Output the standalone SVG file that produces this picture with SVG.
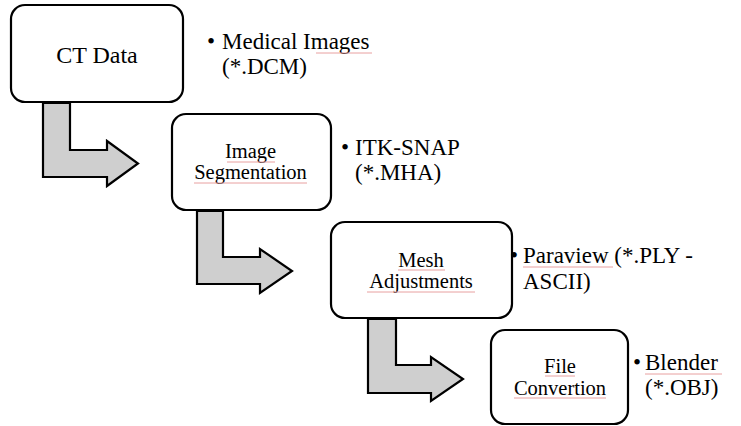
<svg xmlns="http://www.w3.org/2000/svg" width="741" height="426" viewBox="0 0 741 426">
<style>
.box{fill:#fff;stroke:#000;stroke-width:2.2}
.arr{fill:#cfcfcf;stroke:#000;stroke-width:2.2;stroke-linejoin:miter}
.lbl{font-size:20.5px;fill:#000;text-anchor:middle}
.big{font-size:24px}
.bul{font-size:23px;fill:#000}
.sp{stroke:#e8a0a0;stroke-width:1;fill:none}
</style>
<rect width="741" height="426" fill="#fff"/>
<g id="connectors">
<polygon class="arr" points="43,103 70,103 70,150 107,150 107,141 138,163.5 107,186 107,177 43,177"/>
<polygon class="arr" points="197,211 223,211 223,257 260,257 260,249 292,271 260,293 260,284 197,284"/>
<polygon class="arr" points="368,319 396,319 396,365 431,365 431,357 463,379 431,401 431,393 368,393"/>
</g>
<g font-family="'Liberation Serif', 'Times New Roman', serif">
<g id="node-ct">
<rect class="box" x="11" y="5" width="172" height="97" rx="14"/>
<text class="lbl big" x="97" y="63">CT Data</text>
</g>
<g id="note-ct">
<text class="bul" x="207" y="49">•</text>
<text class="bul" x="222" y="49">Medical Images</text>
<text class="bul" x="222" y="74">(*.DCM)</text>
<path class="sp" d="M316,53 H372"/>
</g>
<g id="node-seg">
<rect class="box" x="172" y="114" width="159" height="96" rx="14"/>
<text class="lbl" x="250.5" y="158">Image</text>
<text class="lbl" x="250.5" y="179">Segmentation</text>
<path class="sp" d="M227,162 H275 M194,183 H307"/>
</g>
<g id="note-seg">
<text class="bul" x="341" y="155">•</text>
<text class="bul" x="355" y="155">ITK-SNAP</text>
<text class="bul" x="355" y="180">(*.MHA)</text>
</g>
<g id="node-mesh">
<rect class="box" x="331" y="222" width="181" height="96" rx="14"/>
<text class="lbl" x="421" y="267">Mesh</text>
<text class="lbl" x="421" y="288">Adjustments</text>
<path class="sp" d="M398,270 H445 M367,292 H475"/>
</g>
<g id="note-mesh">
<text class="bul" x="510" y="263">•</text>
<text class="bul" x="523" y="263">Paraview (*.PLY -</text>
<text class="bul" x="523" y="289">ASCII)</text>
<path class="sp" d="M523,267 H613"/>
</g>
<g id="node-file">
<rect class="box" x="491" y="330" width="137" height="94" rx="14"/>
<text class="lbl" x="560" y="373">File</text>
<text class="lbl" x="560" y="395">Convertion</text>
<path class="sp" d="M545,376 H575 M514,398 H606"/>
</g>
<g id="note-file">
<text class="bul" x="633" y="370">•</text>
<text class="bul" x="645" y="370">Blender</text>
<text class="bul" x="645" y="395">(*.OBJ)</text>
<path class="sp" d="M645,374 H722"/>
</g>
</g>
</svg>
